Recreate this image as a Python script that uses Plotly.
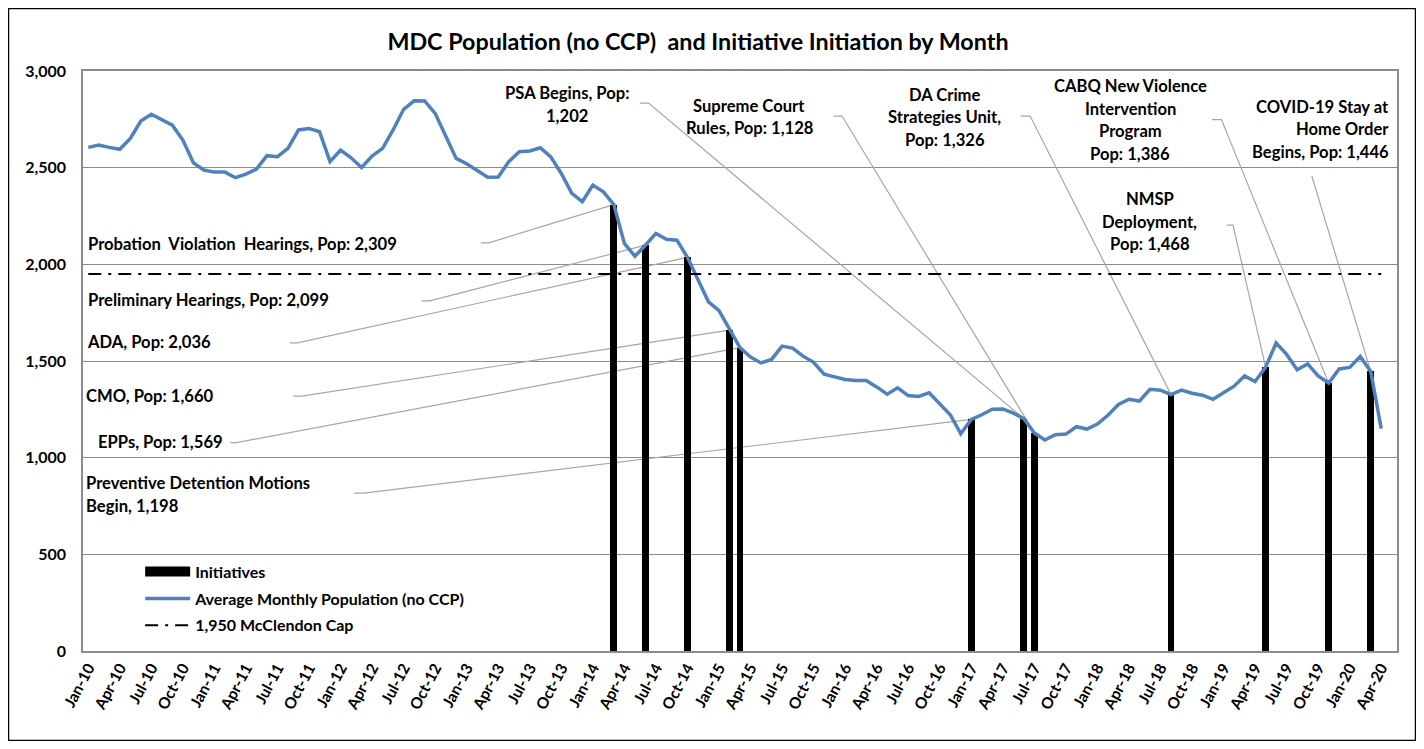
import plotly.graph_objects as go

MONTH_NAMES = ['Jan', 'Feb', 'Mar', 'Apr', 'May', 'Jun',
               'Jul', 'Aug', 'Sep', 'Oct', 'Nov', 'Dec']

# Jan-10 .. Apr-20
months = [f'{m}-{y:02d}' for y in range(10, 21) for m in MONTH_NAMES][:124]

# average monthly population (no CCP)
population = [
  2605, 2617, 2605, 2595, 2651, 2741, 2776, 2750, 2720, 2643, 2525, 2488,  # 2010
  2477, 2477, 2448, 2467, 2493, 2562, 2557, 2600, 2695, 2703, 2686, 2531,  # 2011
  2591, 2551, 2501, 2560, 2600, 2695, 2802, 2846, 2845, 2781, 2660, 2548,  # 2012
  2520, 2487, 2450, 2452, 2531, 2582, 2586, 2603, 2556, 2470, 2367, 2324,  # 2013
  2410, 2375, 2309, 2108, 2042, 2099, 2160, 2130, 2125, 2036, 1918, 1806,  # 2014
  1760, 1660, 1569, 1520, 1490, 1508, 1577, 1567, 1525, 1493, 1432, 1418,  # 2015
  1404, 1399, 1399, 1366, 1328, 1361, 1321, 1317, 1336, 1278, 1222, 1124,  # 2016
  1198, 1222, 1251, 1252, 1230, 1202, 1128, 1091, 1119, 1122, 1160, 1148,  # 2017
  1174, 1219, 1275, 1302, 1293, 1354, 1349, 1326, 1349, 1333, 1323, 1302,  # 2018
  1336, 1370, 1423, 1394, 1468, 1593, 1534, 1455, 1485, 1423, 1386, 1459,  # 2019
  1467, 1523, 1446, 1150,                                                  # 2020
]

CAP = 1950

initiative_months = ['Mar-14', 'Jun-14', 'Oct-14', 'Feb-15', 'Mar-15', 'Jan-17',
                     'Jun-17', 'Jul-17', 'Aug-18', 'May-19', 'Nov-19', 'Mar-20']
initiative_pop = [2309, 2099, 2036, 1660, 1569, 1198,
                  1202, 1128, 1326, 1468, 1386, 1446]

# callout text and where it sits (x in month index, y in population units)
callouts = [
  dict(lines=['Probation  Violation  Hearings, Pop: 2,309'], x=-0.2, y=2105, anchor='left',
       elbow=(37.35, 38.1, 2111)),
  dict(lines=['Preliminary Hearings, Pop: 2,099'], x=-0.2, y=1815, anchor='left',
       elbow=(31.7, 32.5, 1811)),
  dict(lines=['ADA, Pop: 2,036'], x=-0.3, y=1597, anchor='left',
       elbow=(19.2, 19.9, 1594)),
  dict(lines=['CMO, Pop: 1,660'], x=-0.4, y=1318, anchor='left',
       elbow=(19.5, 20.3, 1318)),
  dict(lines=['EPPs, Pop: 1,569'], x=0.75, y=1080, anchor='left',
       elbow=(13.5, 14.1, 1078)),
  dict(lines=['Preventive Detention Motions', 'Begin, 1,198'], x=-0.45, y=867, anchor='left',
       elbow=(25.3, 26.2, 817)),
  dict(lines=['PSA Begins, Pop:', '1,202'], x=45.5, y=2886, anchor='center',
       elbow=(52.5, 53.3, 2834)),
  dict(lines=['Supreme Court', 'Rules, Pop: 1,128'], x=62.9, y=2819, anchor='center',
       elbow=(70.9, 71.7, 2767)),
  dict(lines=['DA Crime', 'Strategies Unit,', 'Pop: 1,326'], x=81.5, y=2876, anchor='center',
       elbow=(88.7, 89.6, 2767)),
  dict(lines=['NMSP', 'Deployment,', 'Pop: 1,468'], x=101.0, y=2337, anchor='center',
       elbow=(108.3, 108.9, 2203)),
  dict(lines=['CABQ New Violence', 'Intervention', 'Program', 'Pop: 1,386'], x=99.1, y=2922,
       anchor='center', elbow=(106.9, 107.8, 2749)),
  dict(lines=['COVID-19 Stay at', 'Home Order', 'Begins, Pop: 1,446'], x=123.9, y=2815,
       anchor='right', elbow=(116.4, 116.4, 2457)),
]

FONT = 'Lato'
BLUE = '#4F81BD'
GRID = '#8C8C8C'

x_idx = list(range(len(months)))
bar_x = [months.index(m) for m in initiative_months]

fig = go.Figure()

fig.add_trace(go.Bar(
  x=bar_x, y=initiative_pop, width=0.65,
  marker=dict(color='black', line=dict(width=0)),
  name='Initiatives', showlegend=False,
))
# legend stand-in so the key shows a wide black block like the original
fig.add_trace(go.Scatter(
  x=[None], y=[None], mode='lines', line=dict(color='black', width=11),
  name='Initiatives', legendgroup='a',
))
fig.add_trace(go.Scatter(
  x=x_idx, y=population, mode='lines',
  line=dict(color=BLUE, width=3.5),
  name='Average Monthly Population (no CCP)', legendgroup='b',
))
fig.add_trace(go.Scatter(
  x=x_idx, y=[CAP] * len(months), mode='lines',
  line=dict(color='black', width=2, dash='13px,7px,3px,7px'),
  name='1,950 McClendon Cap', legendgroup='c',
))

for c, bx, by in zip(callouts, bar_x, initiative_pop):
  x0, x1, y0 = c['elbow']
  fig.add_shape(type='path', xref='x', yref='y', layer='between',
                path=f'M {x0},{y0} L {x1},{y0} L {bx},{by}',
                line=dict(color='#A6A6A6', width=1.2))
  for k, line in enumerate(c['lines']):
    fig.add_annotation(x=c['x'], y=c['y'], xref='x', yref='y', text=f'<b>{line}</b>',
                       showarrow=False, xanchor=c['anchor'], yanchor='middle',
                       align=c['anchor'],
                       yshift=-22.5 * k, font=dict(family=FONT, size=16.6, color='black'))

# outer chart frame
fig.add_shape(type='rect', xref='paper', yref='paper',
              x0=-0.0567, x1=1.0141, y0=-0.1543, y1=1.1078,
              line=dict(color='black', width=1.5), layer='above')

fig.update_layout(
  width=1408, height=733,
  margin=dict(l=75, r=19, t=63, b=90),
  paper_bgcolor='white', plot_bgcolor='white',
  font=dict(family=FONT, color='black'),
  title=dict(text='<b>MDC Population (no CCP)  and Initiative Initiation by Month</b>',
             x=0.468, xref='paper', xanchor='center',
             y=1 - 34 / 733, yref='container', yanchor='middle',
             font=dict(family=FONT, size=23.3, color='black')),
  bargap=0,
  showlegend=True,
  legend=dict(x=0.0435, y=0.166, xanchor='left', yanchor='top',
              bgcolor='rgba(0,0,0,0)', traceorder='grouped', tracegroupgap=3,
              itemwidth=45,
              font=dict(family=FONT, size=16, color='black', weight='bold')),
  xaxis=dict(range=[-0.5, 124.5], tickmode='array', tickvals=x_idx[::3], ticktext=months[::3],
             tickangle=-62, tickfont=dict(family=FONT, size=15.5, weight='bold'),
             showgrid=False, zeroline=False, showline=True, linecolor=GRID, linewidth=1.5,
             mirror=True, ticks=''),
  yaxis=dict(range=[0, 3000], dtick=500, tickformat=',', showgrid=True, gridcolor=GRID,
             gridwidth=1.2, zeroline=False, showline=True, linecolor=GRID, linewidth=1.5,
             mirror=True, ticks='', ticklabelstandoff=12,
             tickfont=dict(family=FONT, size=16, weight='bold')),
)

fig.write_html('out.html')
